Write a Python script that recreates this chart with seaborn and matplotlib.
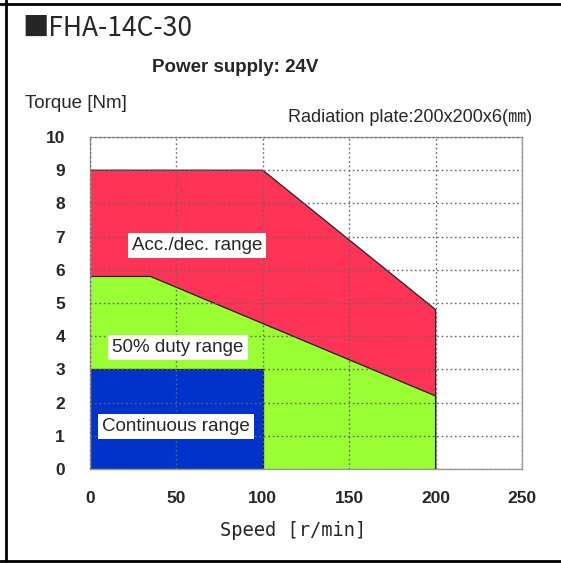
import numpy as np
import pandas as pd
import seaborn as sns
import matplotlib.pyplot as plt
from matplotlib.lines import Line2D

# Operating ranges (speed r/min, torque Nm)
speed_acc = [0, 100, 200]
torque_acc = [9.0, 9.0, 4.8]
speed_duty = [0, 35, 200]
torque_duty = [5.8, 5.8, 2.2]
speed_cont = [0, 100]
torque_cont = [3.0, 3.0]

x_ticks = [0, 50, 100, 150, 200, 250]
y_ticks = list(range(0, 11))

labels = ["Acc./dec. range", "50% duty range", "Continuous range"]
label_x = [62, 51, 49.8]
label_y = [6.73, 3.66, 1.27]

RED = "#FF3355"
GREEN = "#99FF33"
BLUE = "#0033CC"


def main() -> None:
    sns.set_style("white")
    plt.rcParams["font.family"] = ["Liberation Sans", "Noto Sans CJK JP", "DejaVu Sans"]

    fig = plt.figure(figsize=(5.61, 5.63), dpi=100)
    ax = fig.add_axes([90 / 561, 1 - 469 / 563, 432 / 561, 332 / 563])

    # Filled regions, back to front, each with a thin dark outline
    ranges = [
        (speed_acc, torque_acc, RED),
        (speed_duty, torque_duty, GREEN),
        (speed_cont, torque_cont, BLUE),
    ]
    for sx, ty, color in ranges:
        ax.fill_between(sx, ty, 0, color=color, zorder=1, linewidth=0)
        df = pd.DataFrame({"speed": sx + [sx[-1]], "torque": ty + [0]})
        sns.lineplot(data=df, x="speed", y="torque", sort=False, estimator=None,
                     ax=ax, color="#222222", linewidth=0.9, zorder=1.5)

    ax.set_xlim(0, 250)
    ax.set_ylim(0, 10)
    ax.set_xticks(x_ticks)
    ax.set_yticks(y_ticks)
    ax.set_xlabel("")
    ax.set_ylabel("")
    ax.set_axisbelow(False)
    ax.grid(True, linestyle=(0, (1.2, 2)), color="#666666", linewidth=1.0)
    ax.tick_params(axis="both", length=0, labelsize=12.5)
    ax.tick_params(axis="x", pad=16)
    ax.tick_params(axis="y", pad=18)
    for lab in ax.get_xticklabels() + ax.get_yticklabels():
        lab.set_fontweight("bold")
    for sp in ax.spines.values():
        sp.set_color("#999999")
        sp.set_linewidth(1.0)

    for text, x, y in zip(labels, label_x, label_y):
        ax.text(x, y, text, ha="center", va="center", fontsize=13.5, zorder=4,
                bbox=dict(boxstyle="square,pad=0.22", facecolor="white", edgecolor="none"))

    # Titles and annotations
    fig.text(22 / 561, 1 - 28 / 563, "■FHA-14C-30", fontsize=19, va="center",
             family=["Noto Sans CJK JP", "DejaVu Sans"])
    fig.text(235 / 561, 1 - 68 / 563, "Power supply: 24V", fontsize=13.5,
             fontweight="bold", ha="center", va="center")
    fig.text(25 / 561, 1 - 104 / 563, "Torque [Nm]", fontsize=13.5, va="center")
    fig.text(532 / 561, 1 - 118 / 563, "Radiation plate:200x200x6(㎜)", fontsize=13,
             ha="right", va="center")
    fig.text(293 / 561, 1 - 530 / 563, "Speed [r/min]", fontsize=13.5, ha="center",
             va="center", family=["DejaVu Sans Mono"])

    # Outer frame (left, top, bottom)
    fig.add_artist(Line2D([6 / 561, 6 / 561], [0, 1], color="black", linewidth=2,
                          transform=fig.transFigure))
    fig.add_artist(Line2D([0, 1], [1 - 4 / 563, 1 - 4 / 563], color="black", linewidth=2,
                          transform=fig.transFigure))
    fig.add_artist(Line2D([0, 1], [1 - 561 / 563, 1 - 561 / 563], color="black",
                          linewidth=2, transform=fig.transFigure))

    fig.savefig("out.png", dpi=100)


if __name__ == "__main__":
    main()
